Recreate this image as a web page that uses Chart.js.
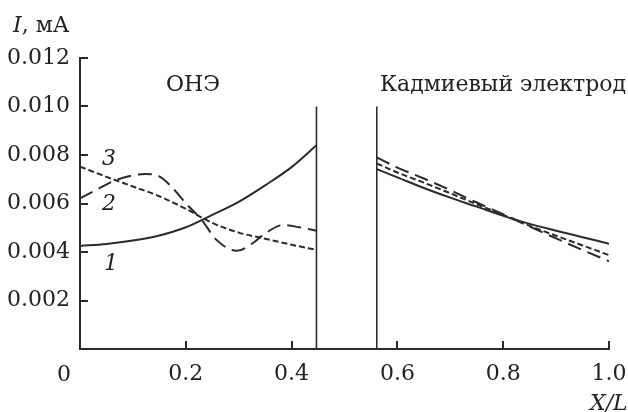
<!DOCTYPE html>
<html>
<head>
<meta charset="utf-8">
<script src="https://cdn.jsdelivr.net/npm/chart.js@4.4.1/dist/chart.umd.min.js"></script>
<style>
    html, body { margin: 0; padding: 0; background: #fff; }
    #wrap { width: 628px; height: 412px; }
</style>
</head>
<body>
<div id="wrap"><canvas id="chart" width="628" height="412"></canvas></div>
<script>
// левая часть (ОНЭ)
var xLeft = [0, 0.05, 0.1, 0.15, 0.2, 0.25, 0.3, 0.35, 0.4, 0.447];
var curve1Left = [0.00425, 0.00433, 0.00447, 0.00468, 0.00502, 0.00553, 0.00607, 0.00675, 0.0075, 0.0084];
var curve3Left = [0.00752, 0.0071, 0.0067, 0.0063, 0.00578, 0.0052, 0.0048, 0.00455, 0.0043, 0.00409];
var xLeft2 = [0, 0.03, 0.065, 0.1, 0.123, 0.15, 0.17, 0.2, 0.23, 0.258, 0.296, 0.327, 0.346, 0.384, 0.415, 0.447];
var curve2Left = [0.00621, 0.00655, 0.00694, 0.00716, 0.00722, 0.00712, 0.00676, 0.00601, 0.00532, 0.0045, 0.00405, 0.00437, 0.0047, 0.00511, 0.00502, 0.00488];

// правая часть (кадмиевый электрод)
var xRight = [0.561, 0.6, 0.65, 0.7, 0.75, 0.8, 0.85, 0.9, 0.95, 1.0];
var curve1Right = [0.00742, 0.00708, 0.00664, 0.00624, 0.00587, 0.00549, 0.00516, 0.00488, 0.00461, 0.00434];
var curve2Right = [0.0079, 0.00748, 0.00703, 0.00655, 0.00604, 0.00556, 0.00505, 0.00456, 0.00408, 0.00362];
var curve3Right = [0.00765, 0.00728, 0.00686, 0.00642, 0.00597, 0.00553, 0.00508, 0.00467, 0.00427, 0.00387];

// границы
var sepX = [0.447, 0.561];
var sepTop = 0.010;

var xTicks = [0, 0.2, 0.4, 0.6, 0.8, 1.0];
var yTicks = [0.002, 0.004, 0.006, 0.008, 0.010, 0.012];

var ink = '#2b2b2b';
var serif = 'DejaVu Serif';

function toPoints(xs, ys)
{
    var pts = [];
    for (var i = 0; i < xs.length; i++) {
        pts.push({ x: xs[i], y: ys[i] });
    }
    return pts;
}

function curve(xs, ys, dash, width)
{
    return {
        data: toPoints(xs, ys),
        borderColor: ink,
        borderWidth: width,
        borderDash: dash,
        pointRadius: 0,
        tension: 0.4,
        cubicInterpolationMode: 'monotone',
        fill: false
    };
}

var datasets = [
    curve(xLeft, curve1Left, [], 2),
    curve(xLeft2, curve2Left, [14, 7], 2),
    curve(xLeft, curve3Left, [6, 3], 2),
    curve(xRight, curve1Right, [], 2),
    curve(xRight, curve2Right, [14, 7], 2),
    curve(xRight, curve3Right, [6, 3], 2)
];

for (var s = 0; s < sepX.length; s++) {
    datasets.push({
        data: [{ x: sepX[s], y: 0 }, { x: sepX[s], y: sepTop }],
        borderColor: ink,
        borderWidth: 1.6,
        pointRadius: 0,
        fill: false
    });
}

var annotations = {
    id: 'annotations',
    afterDraw: function(chart)
    {
        var c = chart.ctx;
        var area = chart.chartArea;
        var xs = chart.scales.x;
        var ys = chart.scales.y;

        c.save();
        c.strokeStyle = ink;
        c.lineWidth = 2;
        c.beginPath();
        for (var i = 0; i < yTicks.length; i++) {
            var py = Math.round(ys.getPixelForValue(yTicks[i]));
            c.moveTo(area.left, py);
            c.lineTo(area.left + 8, py);
        }
        for (var j = 1; j < xTicks.length; j++) {
            var px = Math.round(xs.getPixelForValue(xTicks[j]));
            c.moveTo(px, area.bottom);
            c.lineTo(px, area.bottom - 8);
        }
        c.stroke();

        c.fillStyle = '#222';
        c.textBaseline = 'alphabetic';
        c.textAlign = 'left';

        c.font = '22px "' + serif + '"';
        c.fillText('0', area.left - 23, 381);

        // подпись оси Y
        c.font = 'italic 22px "' + serif + '"';
        c.fillText('I', 13, 32);
        var w = c.measureText('I').width;
        c.font = '22px "' + serif + '"';
        c.fillText(', мА', 13 + w, 32);

        c.fillText('ОНЭ', 166, 91);
        c.fillText('Кадмиевый электрод', 380, 91);

        c.font = 'italic 22px "' + serif + '"';
        c.fillText('X/L', 590, 410);
        c.fillText('3', 102, 165);
        c.fillText('2', 102, 210);
        c.fillText('1', 104, 270);
        c.restore();
    }
};

var ctx = document.getElementById('chart');

var chart = new Chart(ctx, {
    type: 'line',
    data: { datasets: datasets },
    plugins: [annotations],
    options: {
        responsive: false,
        animation: false,
        layout: { padding: { top: 58, right: 0, left: 0, bottom: 0 } },
        plugins: {
            legend: { display: false },
            tooltip: { enabled: false }
        },
        scales: {
            x: {
                type: 'linear',
                min: 0,
                max: 1,
                afterFit: function(scale) {
                    scale.height = 63;
                    scale.paddingLeft = 0;
                    scale.paddingRight = 19;
                },
                afterBuildTicks: function(scale) {
                    scale.ticks = xTicks.map(function(v) { return { value: v }; });
                },
                ticks: {
                    color: '#222',
                    padding: 12,
                    maxRotation: 0,
                    font: { family: serif, size: 22 },
                    callback: function(v) { return v === 0 ? '' : v.toFixed(1); }
                },
                grid: { display: false, drawTicks: false },
                border: { display: true, color: ink, width: 2 }
            },
            y: {
                min: 0,
                max: 0.012,
                afterFit: function(scale) { scale.width = 80; },
                afterBuildTicks: function(scale) {
                    scale.ticks = yTicks.map(function(v) { return { value: v }; });
                },
                ticks: {
                    color: '#222',
                    padding: 10,
                    font: { family: serif, size: 22 },
                    callback: function(v) { return v.toFixed(3); }
                },
                grid: { display: false, drawTicks: false },
                border: { display: true, color: ink, width: 2 }
            }
        }
    }
});
</script>
</body>
</html>
